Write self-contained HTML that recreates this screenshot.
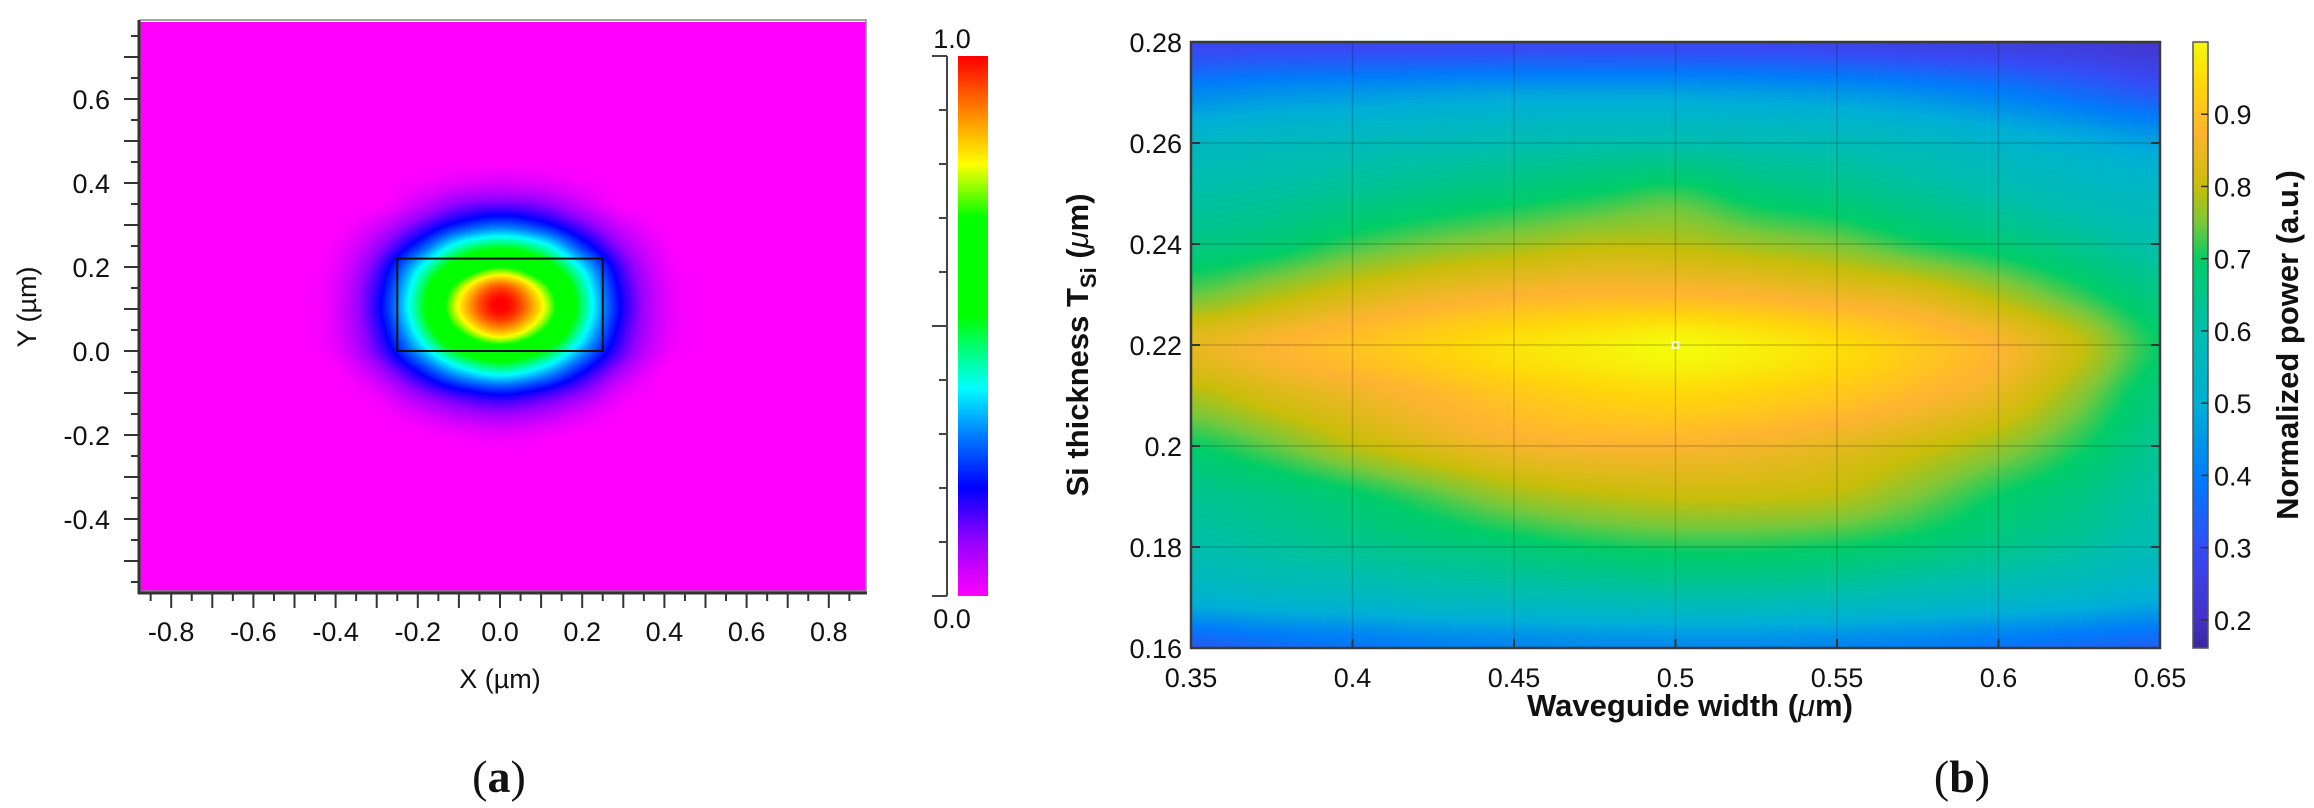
<!DOCTYPE html>
<html><head><meta charset="utf-8">
<style>
html,body{margin:0;padding:0;background:#fff;}
#root{position:relative;width:2314px;height:808px;overflow:hidden;background:#fff;font-family:"Liberation Sans",sans-serif;}
canvas{position:absolute;}
svg{position:absolute;left:0;top:0;}
</style></head>
<body>
<div id="root">
<canvas id="modeCanvas" style="left:140px;top:22px" width="726" height="569"></canvas>
<canvas id="modeBar" style="left:958px;top:56px" width="30" height="540"></canvas>
<canvas id="powCanvas" style="left:1191px;top:42px" width="969" height="606"></canvas>
<canvas id="powBar" style="left:2193px;top:42px" width="15" height="606"></canvas>
<svg id="ov" width="2314" height="808"></svg>
</div>
<script>
// ---------- Panel (a) data: mode field grid ----------
const modeX = [-0.5,-0.4,-0.3,-0.2,-0.1,0,0.1,0.2,0.3,0.4,0.5];
const modeY = [0.45,0.40,0.35,0.30,0.25,0.20,0.15,0.10,0.05,0.0,-0.05,-0.10,-0.15,-0.20,-0.25];
const modeVals = [
[0,0,0,0,0,0,0,0,0,0,0],
[0,0,0,0.01,0.03,0.04,0.03,0.01,0,0,0],
[0,0,0,0.05,0.11,0.13,0.11,0.05,0,0,0],
[0,0,0.04,0.13,0.23,0.28,0.23,0.13,0.04,0,0],
[0,0.01,0.09,0.24,0.42,0.49,0.42,0.24,0.09,0.01,0],
[0,0.02,0.14,0.37,0.59,0.71,0.59,0.37,0.14,0.02,0],
[0,0.03,0.17,0.44,0.76,0.95,0.76,0.44,0.17,0.03,0],
[0,0.03,0.18,0.46,0.81,1.0,0.81,0.46,0.18,0.03,0],
[0,0.03,0.16,0.41,0.71,0.87,0.71,0.41,0.16,0.03,0],
[0,0.02,0.13,0.32,0.52,0.62,0.52,0.32,0.13,0.02,0],
[0,0,0.07,0.2,0.34,0.41,0.34,0.2,0.07,0,0],
[0,0,0.02,0.1,0.17,0.21,0.17,0.1,0.02,0,0],
[0,0,0,0.03,0.07,0.09,0.07,0.03,0,0,0],
[0,0,0,0,0.01,0.02,0.01,0,0,0,0],
[0,0,0,0,0,0,0,0,0,0,0]];
const modeXTicks = [-0.8,-0.6,-0.4,-0.2,0.0,0.2,0.4,0.6,0.8];
const modeYTicks = [-0.4,-0.2,0.0,0.2,0.4,0.6];
const coreRect = [-0.25,0.25,0.0,0.22];

// ---------- Panel (b) data: normalized power grid ----------
const powX = [0.35,0.375,0.4,0.425,0.45,0.475,0.5,0.525,0.55,0.575,0.6,0.625,0.65];
const powY = [0.28,0.27,0.26,0.25,0.24,0.23,0.22,0.21,0.20,0.19,0.18,0.17,0.16];
const powVals = [
[0.28,0.28,0.28,0.28,0.28,0.28,0.28,0.28,0.27,0.26,0.25,0.24,0.22],
[0.42,0.44,0.45,0.46,0.47,0.47,0.47,0.46,0.45,0.43,0.40,0.36,0.32],
[0.55,0.56,0.57,0.58,0.59,0.60,0.60,0.59,0.58,0.56,0.53,0.50,0.47],
[0.61,0.62,0.64,0.66,0.68,0.70,0.72,0.68,0.66,0.63,0.60,0.57,0.55],
[0.66,0.68,0.72,0.75,0.77,0.79,0.79,0.77,0.75,0.71,0.68,0.64,0.60],
[0.74,0.78,0.82,0.85,0.87,0.88,0.88,0.87,0.85,0.83,0.78,0.72,0.66],
[0.84,0.87,0.90,0.93,0.96,0.98,1.00,0.98,0.95,0.91,0.87,0.80,0.70],
[0.78,0.82,0.85,0.88,0.91,0.93,0.94,0.93,0.91,0.88,0.84,0.76,0.67],
[0.70,0.74,0.79,0.83,0.86,0.87,0.87,0.86,0.84,0.81,0.77,0.71,0.64],
[0.64,0.66,0.69,0.73,0.77,0.79,0.80,0.80,0.79,0.75,0.70,0.66,0.61],
[0.60,0.62,0.64,0.66,0.68,0.70,0.71,0.71,0.70,0.68,0.65,0.62,0.58],
[0.52,0.54,0.55,0.57,0.58,0.59,0.60,0.60,0.59,0.57,0.55,0.53,0.50],
[0.33,0.36,0.38,0.40,0.41,0.42,0.42,0.42,0.41,0.40,0.38,0.36,0.34]];
const powXTicks = [0.35,0.4,0.45,0.5,0.55,0.6,0.65];
const powXLabels = ["0.35","0.4","0.45","0.5","0.55","0.6","0.65"];
const powYTicks = [0.16,0.18,0.2,0.22,0.24,0.26,0.28];
const powYLabels = ["0.16","0.18","0.2","0.22","0.24","0.26","0.28"];
const powBarTicks = [0.2,0.3,0.4,0.5,0.6,0.7,0.8,0.9];
const peakPoint = [0.5,0.22];

// ---------- axis functions ----------
const ax = {x0:140,x1:866,y0:22,y1:591};
const aX = x => 500 + x*411;
const aY = y => 351 - y*420;
const bx = {x0:1191,x1:2160,y0:42,y1:648};
const bX = x => bx.x0 + (x-0.35)/0.3*(bx.x1-bx.x0);
const bY = y => bx.y1 - (y-0.16)/0.12*(bx.y1-bx.y0);
const bBarMin=0.161,bBarMax=1.0;
const bBarY = v => 648 - (v-bBarMin)/(bBarMax-bBarMin)*606;

function lerpStops(stops,t){
  t=Math.max(0,Math.min(1,t));
  for(let i=1;i<stops.length;i++){
    if(t<=stops[i][0]){const a=stops[i-1],b=stops[i];const f=(t-a[0])/(b[0]-a[0]||1);
      return [a[1]+(b[1]-a[1])*f,a[2]+(b[2]-a[2])*f,a[3]+(b[3]-a[3])*f];}
  }
  const l=stops[stops.length-1];return [l[1],l[2],l[3]];
}
const rainbow=[[0,255,0,255],[0.1,150,0,255],[0.2,0,0,255],[0.3,0,130,255],[0.385,0,255,255],[0.52,0,255,0],[0.7,0,255,0],[0.8,255,255,0],[0.9,255,130,0],[1,255,0,0]];
const parulaLike=[[0,60,40,160],[0.05,70,50,200],[0.16,55,75,245],[0.28,0,125,250],[0.4,0,175,215],[0.52,0,190,175],[0.64,0,205,105],[0.7,120,200,60],[0.76,200,190,10],[0.85,255,180,50],[0.93,255,215,10],[1,245,250,10]];

function cr(p0,p1,p2,p3,t){return 0.5*((2*p1)+(-p0+p2)*t+(2*p0-5*p1+4*p2-p3)*t*t+(-p0+3*p1-3*p2+p3)*t*t*t);}
function bicubic(xs,ys,vals,x,y){
  function idx(arr,v){const asc=arr[1]>arr[0];let n=arr.length;
    let p=asc?(v-arr[0])/(arr[1]-arr[0]):(arr[0]-v)/(arr[0]-arr[1]);
    p=Math.max(0,Math.min(n-1,p));let i=Math.min(n-2,Math.floor(p));return [i,p-i];}
  const [i,fx]=idx(xs,x),[j,fy]=idx(ys,y);
  const nx=xs.length,ny=ys.length;
  const g=(r,c)=>vals[Math.max(0,Math.min(ny-1,r))][Math.max(0,Math.min(nx-1,c))];
  const rows=[];
  for(let r=-1;r<=2;r++)rows.push(cr(g(j+r,i-1),g(j+r,i),g(j+r,i+1),g(j+r,i+2),fx));
  return cr(rows[0],rows[1],rows[2],rows[3],fy);
}

// draw mode field
(function(){
  const c=document.getElementById('modeCanvas'),g=c.getContext('2d');
  const W=c.width,H=c.height,img=g.createImageData(W,H);
  for(let py=0;py<H;py++){
    const y=(351-(py+ax.y0))/420;
    for(let px=0;px<W;px++){
      const x=(px+ax.x0-500)/411;
      let v=0;
      if(x>modeX[0]&&x<modeX[modeX.length-1]&&y<modeY[0]&&y>modeY[modeY.length-1]) v=Math.max(0,Math.min(1,bicubic(modeX,modeY,modeVals,x,y)));
      const col=lerpStops(rainbow,v),k=(py*W+px)*4;
      img.data[k]=col[0];img.data[k+1]=col[1];img.data[k+2]=col[2];img.data[k+3]=255;
    }
  }
  g.putImageData(img,0,0);
  const b=document.getElementById('modeBar'),bg=b.getContext('2d');
  for(let py=0;py<b.height;py++){const col=lerpStops(rainbow,1-py/(b.height-1));
    bg.fillStyle=`rgb(${col[0]|0},${col[1]|0},${col[2]|0})`;bg.fillRect(0,py,b.width,1);}
})();
// draw power map
(function(){
  const c=document.getElementById('powCanvas'),g=c.getContext('2d');
  const W=c.width,H=c.height,img=g.createImageData(W,H);
  for(let py=0;py<H;py++){
    const y=0.28-py/(H-1)*0.12;
    for(let px=0;px<W;px++){
      const x=0.35+px/(W-1)*0.3;
      const v=bicubic(powX,powY,powVals,x,y);
      const col=lerpStops(parulaLike,(v-bBarMin)/(bBarMax-bBarMin)),k=(py*W+px)*4;
      img.data[k]=col[0];img.data[k+1]=col[1];img.data[k+2]=col[2];img.data[k+3]=255;
    }
  }
  g.putImageData(img,0,0);
  const b=document.getElementById('powBar'),bg=b.getContext('2d');
  for(let py=0;py<b.height;py++){const col=lerpStops(parulaLike,1-py/(b.height-1));
    bg.fillStyle=`rgb(${col[0]|0},${col[1]|0},${col[2]|0})`;bg.fillRect(0,py,b.width,1);}
})();

// overlay
const NS='http://www.w3.org/2000/svg',ov=document.getElementById('ov');
function el(tag,attrs,text){const e=document.createElementNS(NS,tag);for(const k in attrs)e.setAttribute(k,attrs[k]);if(text!==undefined)e.textContent=text;ov.appendChild(e);return e;}

let e;
e=el('rect',{x:ax.x0,y:ax.y0-2,width:ax.x1-ax.x0,height:ax.y1-ax.y0+2,fill:'none',stroke:'#888','stroke-width':1.5});


e=el('line',{x1:139,y1:20,x2:139,y2:594,stroke:'#333','stroke-width':3});


e=el('line',{x1:138,y1:593,x2:867,y2:593,stroke:'#333','stroke-width':3});


for(let i=-17;i<=17;i++){const v=i*0.05,x=aX(v);if(x<ax.x0-1||x>ax.x1+1)continue;const long=i%2===0;
  e=el('line',{x1:x,y1:594,x2:x,y2:long?608:601,stroke:'#333','stroke-width':2});
  
  }
for(let i=-11;i<=15;i++){const v=i*0.05,y=aY(v);if(y<ax.y0-1||y>ax.y1+1)continue;const long=i%2===0;
  e=el('line',{x1:138,y1:y,x2:long?124:131,y2:y,stroke:'#333','stroke-width':2});
  
  }
modeXTicks.forEach(v=>{e=el('text',{x:aX(v),y:641,'font-size':27,'text-anchor':'middle',fill:'#111'},v.toFixed(1));
  
  });
modeYTicks.forEach(v=>{e=el('text',{x:110,y:aY(v)+10,'font-size':27,'text-anchor':'end',fill:'#111'},v.toFixed(1));
  
  });
e=el('text',{x:500,y:688,'font-size':27,'text-anchor':'middle',fill:'#111'},'X (\u00b5m)');


e=el('text',{x:0,y:0,'font-size':27,'text-anchor':'middle',fill:'#111',transform:'translate(36,307) rotate(-90)'},'Y (\u00b5m)');


e=el('rect',{x:aX(coreRect[0]),y:aY(coreRect[3]),width:aX(coreRect[1])-aX(coreRect[0]),height:aY(coreRect[2])-aY(coreRect[3]),fill:'none',stroke:'#111','stroke-width':2});


e=el('line',{x1:947,y1:56,x2:947,y2:596,stroke:'#444','stroke-width':2});


for(let i=0;i<=10;i++){const y=596-i*54,long=(i%5===0);
  e=el('line',{x1:947,y1:y,x2:long?932:939,y2:y,stroke:'#444','stroke-width':2});
  
  }
e=el('text',{x:952,y:48,'font-size':27,'text-anchor':'middle',fill:'#111'},'1.0');


e=el('text',{x:952,y:628,'font-size':27,'text-anchor':'middle',fill:'#111'},'0.0');


e=el('text',{x:499,y:792,'font-size':46,'text-anchor':'middle',fill:'#111','font-family':'Liberation Serif, serif'},'');


e.innerHTML='(<tspan font-weight="bold">a</tspan>)';

powXTicks.forEach(v=>{e=el('line',{x1:bX(v),y1:bx.y0,x2:bX(v),y2:bx.y1,stroke:'rgba(0,0,0,0.18)','stroke-width':1.5});
  
  });
powYTicks.forEach(v=>{e=el('line',{x1:bx.x0,y1:bY(v),x2:bx.x1,y2:bY(v),stroke:'rgba(0,0,0,0.18)','stroke-width':1.5});
  
  });
powXTicks.forEach(v=>{e=el('line',{x1:bX(v),y1:bx.y1,x2:bX(v),y2:bx.y1-9,stroke:'#333','stroke-width':2});
  
  });
powYTicks.forEach(v=>{e=el('line',{x1:bx.x0,y1:bY(v),x2:bx.x0+9,y2:bY(v),stroke:'#333','stroke-width':2});
  
  
  e=el('line',{x1:bx.x1,y1:bY(v),x2:bx.x1-9,y2:bY(v),stroke:'#333','stroke-width':2});
  
  });
e=el('rect',{x:bx.x0,y:bx.y0,width:bx.x1-bx.x0,height:bx.y1-bx.y0,fill:'none',stroke:'#3a3a3a','stroke-width':2.5});


e=el('rect',{x:bX(peakPoint[0])-3,y:bY(peakPoint[1])-3,width:6,height:6,fill:'none',stroke:'#fff','stroke-width':1.5});


powXTicks.forEach((v,i)=>{e=el('text',{x:bX(v),y:687,'font-size':27,'text-anchor':'middle',fill:'#111'},powXLabels[i]);
  
  });
powYTicks.forEach((v,i)=>{e=el('text',{x:1182,y:bY(v)+10,'font-size':27,'text-anchor':'end',fill:'#111'},powYLabels[i]);
  
  });
e=el('text',{x:1690,y:716,'font-size':31,'font-weight':'bold','text-anchor':'middle',fill:'#111'},'');


e.innerHTML='Waveguide width  (<tspan font-style="italic" font-weight="normal">\u03bc</tspan>m)';
e=el('text',{x:0,y:0,'font-size':31,'font-weight':'bold','text-anchor':'middle',fill:'#111',transform:'translate(1088,345) rotate(-90)'},'');


e.innerHTML='Si thickness T<tspan font-size="22" dy="8">Si</tspan><tspan dy="-8"> (</tspan><tspan font-style="italic" font-weight="normal">\u03bc</tspan>m)';
e=el('rect',{x:2193,y:42,width:15,height:606,fill:'none',stroke:'#555','stroke-width':1.5});


powBarTicks.forEach(v=>{e=el('line',{x1:2208,y1:bBarY(v),x2:2201,y2:bBarY(v),stroke:'#333','stroke-width':1.5});
  
  
  e=el('text',{x:2214,y:bBarY(v)+10,'font-size':27,fill:'#111'},v.toFixed(1));
  
  });
e=el('text',{x:0,y:0,'font-size':31,'font-weight':'bold','text-anchor':'middle',fill:'#111',transform:'translate(2298,345) rotate(-90)'},'Normalized power (a.u.)');


e=el('text',{x:1962,y:792,'font-size':46,'text-anchor':'middle',fill:'#111','font-family':'Liberation Serif, serif'},'');


e.innerHTML='(<tspan font-weight="bold">b</tspan>)';
</script>
</body></html>
